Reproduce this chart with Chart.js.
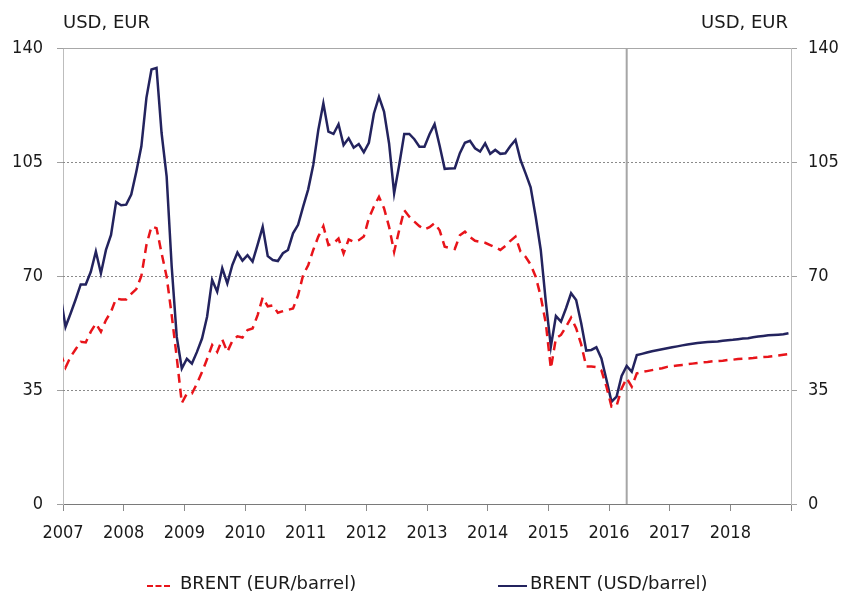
<!DOCTYPE html>
<html>
<head>
<meta charset="utf-8">
<script src="https://cdn.jsdelivr.net/npm/chart.js@4.4.1/dist/chart.umd.min.js"></script>
<style>
  html, body { margin: 0; padding: 0; background: #fff; }
  #wrap { position: relative; width: 845px; height: 599px; overflow: hidden; }
  canvas { position: absolute; left: 0; top: 0; }
  .unit { position: absolute; top: 11px; font-family: "DejaVu Sans", sans-serif; font-size: 18px; color: #1a1a1a; white-space: nowrap; }
  .leg { position: absolute; top: 572px; font-family: "DejaVu Sans", sans-serif; font-size: 18px; color: #1a1a1a; white-space: nowrap; }
  .sw { position: absolute; height: 0; }
</style>
</head>
<body>
<div id="wrap">
  <canvas id="c" width="845" height="599"></canvas>
  <div class="unit" style="left:63px;">USD, EUR</div>
  <div class="unit" style="right:57px;">USD, EUR</div>
  <div class="sw" style="left:147px; top:585px; width:23px; border-top:2.5px dashed #e8141a;"></div>
  <div class="leg" style="left:180px;">BRENT (EUR/barrel)</div>
  <div class="sw" style="left:498px; top:585px; width:29px; border-top:2px solid #23235e;"></div>
  <div class="leg" style="left:530px;">BRENT (USD/barrel)</div>
</div>
<script>
// ---- data (monthly, Dec 2006 .. Dec 2018) ----
const firstMonth = '2006-12';
const yearLabels = ['2007','2008','2009','2010','2011','2012','2013','2014','2015','2016','2017','2018'];
const yTicks = [0, 35, 70, 105, 140];
const forecastStart = '2016-04';

const brentUSD = [
  64.0,
  54.4, 58.5, 62.8, 67.4, 67.4, 71.3, 77.5, 70.8, 78.0, 82.6, 92.7, 91.7,
  91.9, 95.0, 102.0, 109.8, 124.7, 133.4, 133.9, 113.9, 100.6, 72.9, 51.3, 41.6,
  44.6, 43.1, 46.7, 50.8, 57.5, 68.8, 65.2, 72.4, 67.7, 73.4, 77.2, 74.7,
  76.4, 74.4, 79.6, 85.1, 76.1, 74.9, 74.6, 77.0, 78.0, 83.1, 85.7, 91.3,
  96.6, 104.1, 114.8, 123.0, 114.3, 113.6, 116.6, 110.2, 112.3, 109.4, 110.5, 108.0,
  110.9, 119.9, 125.0, 120.5, 110.7, 95.4, 104.1, 113.6, 113.6, 112.0, 109.7, 109.7,
  113.5, 116.6, 110.0, 102.9, 103.0, 103.1, 107.7, 110.9, 111.5, 109.2, 108.2, 110.7,
  107.5, 108.7, 107.5, 107.7, 109.9, 111.8, 105.6, 101.5, 97.2, 88.2, 78.0, 62.1,
  48.3, 57.7, 56.0, 60.1, 64.7, 62.6, 55.5, 47.1, 47.3, 48.1, 44.7, 38.1,
  31.4, 33.0, 39.3, 42.4, 40.6, 45.7, 46.1, 46.5, 46.9, 47.2, 47.5, 47.8,
  48.1, 48.4, 48.7, 49.0, 49.2, 49.4, 49.6, 49.7, 49.8, 49.9, 50.1, 50.3,
  50.4, 50.6, 50.8, 50.9, 51.2, 51.4, 51.6, 51.8, 51.9, 52.0, 52.1, 52.4
];

const brentEUR = [
  46.3,
  41.9, 45.2, 47.5, 49.8, 49.6, 52.9, 55.4, 52.9, 56.5, 59.0, 63.1, 62.8,
  62.8, 64.5, 66.0, 70.0, 79.5, 85.2, 84.7, 77.0, 69.8, 58.0, 45.0, 31.0,
  33.9, 33.9, 37.0, 40.5, 44.5, 48.8, 46.7, 50.5, 46.7, 50.1, 51.5, 51.1,
  53.4, 53.9, 58.0, 63.4, 60.7, 61.0, 58.7, 59.2, 59.6, 60.0, 64.1, 70.3,
  73.3, 78.0, 82.1, 85.3, 79.5, 80.0, 81.5, 76.9, 81.2, 80.5, 81.0, 82.1,
  87.7, 91.3, 94.3, 90.8, 85.1, 77.4, 84.1, 90.2, 88.2, 86.7, 85.3, 84.3,
  85.0, 86.2, 84.0, 79.0, 78.6, 78.3, 82.5, 83.6, 82.0, 80.8, 80.5, 80.2,
  79.5, 78.8, 78.0, 79.2, 80.8, 82.1, 77.5, 75.9, 73.5, 69.8, 63.7, 55.5,
  41.6, 50.9, 51.9, 54.4, 57.2, 54.0, 49.0, 42.2, 42.2, 42.0, 41.0, 36.0,
  29.9, 30.1, 35.5, 38.6, 36.0, 40.1, 40.5, 40.8, 41.1, 41.4, 41.7, 42.1,
  42.3, 42.5, 42.7, 42.9, 43.1, 43.3, 43.5, 43.6, 43.8, 43.9, 44.0, 44.2,
  44.3, 44.5, 44.6, 44.7, 44.8, 45.0, 45.1, 45.2, 45.4, 45.6, 45.8, 46.0
];

// ---- helpers: month index -> x position (months since Jan 2007, points at mid-month) ----
const baseYear = parseInt(yearLabels[0], 10);
function monthPos(ym) {
  const [y, m] = ym.split('-').map(Number);
  return (y - baseYear) * 12 + (m - 1) + 0.5;
}
const x0 = monthPos(firstMonth);
const toPoints = arr => arr.map((v, i) => ({ x: x0 + i, y: v }));
const xMax = yearLabels.length * 12;

const tickFont = { family: '"DejaVu Sans Condensed", "DejaVu Sans", sans-serif', size: 18 };

const framePlugin = {
  id: 'frame',
  beforeDatasetsDraw(chart) {
    const { ctx, chartArea: a, scales } = chart;
    const ys = scales.y;
    ctx.save();
    ctx.strokeStyle = '#8a8a8a';
    ctx.lineWidth = 1;
    ctx.setLineDash([2, 2]);
    yTicks.forEach(v => {
      if (v === yTicks[0] || v === yTicks[yTicks.length - 1]) return;
      const py = Math.round(ys.getPixelForValue(v)) + 0.5;
      ctx.beginPath(); ctx.moveTo(a.left, py); ctx.lineTo(a.right, py); ctx.stroke();
    });
    ctx.setLineDash([]);
    ctx.strokeStyle = '#a8a8a8';
    const top = Math.round(ys.getPixelForValue(yTicks[yTicks.length - 1])) + 0.5;
    ctx.beginPath(); ctx.moveTo(a.left, top); ctx.lineTo(a.right, top); ctx.stroke();
    const fx = scales.x.getPixelForValue(monthPos(forecastStart));
    ctx.strokeStyle = '#a6a6a6';
    ctx.lineWidth = 2;
    ctx.beginPath(); ctx.moveTo(fx, a.top); ctx.lineTo(fx, a.bottom); ctx.stroke();
    ctx.restore();
  }
};

new Chart(document.getElementById('c'), {
  type: 'line',
  data: {
    datasets: [
      {
        label: 'BRENT (EUR/barrel)',
        data: toPoints(brentEUR),
        borderColor: '#e8141a',
        borderWidth: 2.5,
        borderDash: [9, 6],
        pointRadius: 0,
        tension: 0,
        clip: 0,
        order: 0
      },
      {
        label: 'BRENT (USD/barrel)',
        data: toPoints(brentUSD),
        borderColor: '#23235e',
        borderWidth: 2.5,
        pointRadius: 0,
        tension: 0,
        clip: 0,
        order: 1
      }
    ]
  },
  options: {
    responsive: false,
    animation: false,
    events: [],
    layout: { padding: { top: 48, left: 0, right: 0, bottom: 0 } },
    plugins: { legend: { display: false }, tooltip: { enabled: false }, title: { display: false } },
    scales: {
      x: {
        type: 'linear',
        min: 0,
        max: xMax,
        afterBuildTicks(scale) {
          const t = [];
          for (let i = 0; i <= yearLabels.length; i++) t.push({ value: i * 12 });
          scale.ticks = t;
        },
        afterFit(scale) { scale.height = 95; },
        ticks: {
          autoSkip: false, maxRotation: 0, minRotation: 0,
          padding: 12, color: '#1a1a1a', font: tickFont,
          callback: v => yearLabels[v / 12] !== undefined ? yearLabels[v / 12] : ''
        },
        grid: { display: true, drawOnChartArea: false, drawTicks: true, tickLength: 7, tickColor: '#8a8a8a', color: '#8a8a8a' },
        border: { display: true, color: '#7a7a7a', width: 1 }
      },
      y: {
        position: 'left',
        min: yTicks[0], max: yTicks[yTicks.length - 1],
        afterBuildTicks(scale) { scale.ticks = yTicks.map(v => ({ value: v })); },
        afterFit(scale) { scale.width = 63; },
        ticks: { padding: 14, color: '#1a1a1a', font: tickFont },
        grid: { display: true, drawOnChartArea: false, drawTicks: true, tickLength: 6, tickColor: '#a0a0a0', color: '#a0a0a0' },
        border: { display: true, color: '#bdbdbd', width: 1 }
      },
      y2: {
        position: 'right',
        min: yTicks[0], max: yTicks[yTicks.length - 1],
        afterBuildTicks(scale) { scale.ticks = yTicks.map(v => ({ value: v })); },
        afterFit(scale) { scale.width = 54; },
        ticks: { padding: 11, color: '#1a1a1a', font: tickFont },
        grid: { display: true, drawOnChartArea: false, drawTicks: true, tickLength: 6, tickColor: '#a0a0a0', color: '#a0a0a0' },
        border: { display: true, color: '#bdbdbd', width: 1 }
      }
    }
  },
  plugins: [framePlugin]
});
</script>
</body>
</html>
